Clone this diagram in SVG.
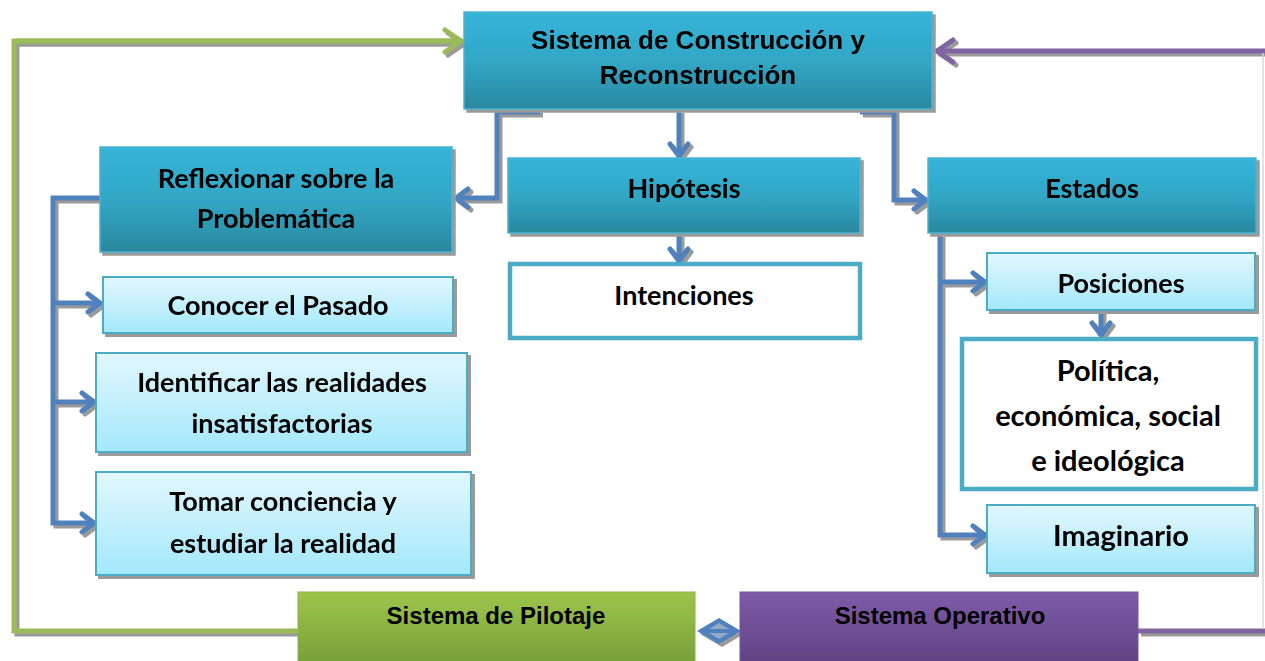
<svg xmlns="http://www.w3.org/2000/svg" width="1265" height="661" viewBox="0 0 1265 661">
<defs>
<linearGradient id="gTeal" x1="0" y1="0" x2="0" y2="1"><stop offset="0" stop-color="#36b4d8"/><stop offset="0.5" stop-color="#31a7c6"/><stop offset="1" stop-color="#2a889f"/></linearGradient>
<linearGradient id="gLight" x1="0" y1="0" x2="0" y2="1"><stop offset="0" stop-color="#e2f7fd"/><stop offset="1" stop-color="#a3e8fb"/></linearGradient>
<linearGradient id="gGreen" x1="0" y1="0" x2="0" y2="1"><stop offset="0" stop-color="#9dc54b"/><stop offset="1" stop-color="#769e38"/></linearGradient>
<linearGradient id="gPurple" x1="0" y1="0" x2="0" y2="1"><stop offset="0" stop-color="#7f5ba8"/><stop offset="1" stop-color="#5e4182"/></linearGradient>
<filter id="sh" x="-5%" y="-5%" width="115%" height="130%">
<feFlood flood-color="#9a9a9a"/><feComposite in2="SourceAlpha" operator="in"/><feOffset dx="3" dy="3" result="s"/>
<feMerge><feMergeNode in="s"/><feMergeNode in="SourceGraphic"/></feMerge>
</filter>
<marker id="aBlue" viewBox="0 0 18 24" refX="16" refY="12" markerWidth="18" markerHeight="24" markerUnits="userSpaceOnUse" orient="auto"><path d="M3,3 L15,12 L3,21" fill="none" stroke="#4f81bd" stroke-width="5" stroke-linecap="round" stroke-linejoin="round"/></marker>
<marker id="aGreen" viewBox="0 0 22 28" refX="20" refY="14" markerWidth="22" markerHeight="28" markerUnits="userSpaceOnUse" orient="auto"><path d="M3,3 L19,14 L3,25" fill="none" stroke="#9bbb59" stroke-width="5" stroke-linecap="round" stroke-linejoin="round"/></marker>
<marker id="aPurple" viewBox="0 0 22 28" refX="20" refY="14" markerWidth="22" markerHeight="28" markerUnits="userSpaceOnUse" orient="auto"><path d="M3,3 L19,14 L3,25" fill="none" stroke="#8064a2" stroke-width="5" stroke-linecap="round" stroke-linejoin="round"/></marker>
</defs>
<style>
.teal{fill:url(#gTeal);stroke:#4bb3d0;stroke-width:1.5}
.light{fill:url(#gLight);stroke:#4bacc6;stroke-width:2}
.white{fill:#ffffff;stroke:#4bacc6;stroke-width:4.5}
.ar{font-family:"Liberation Sans",Arial,sans-serif;font-weight:bold;fill:#000;text-anchor:middle}
.ca{font-family:Lato,"Open Sans",sans-serif;font-weight:bold;fill:#000;text-anchor:middle}
.cb{fill:none;stroke:#4f81bd;stroke-width:5}
</style>
<rect width="1265" height="661" fill="#ffffff"/>
<g id="connectors" filter="url(#sh)">
<path d="M463,41 H14 V631 H298" fill="none" stroke="#9bbb59" stroke-width="5"/>
<path d="M16,41 H462" fill="none" stroke="#9bbb59" stroke-width="5" marker-end="url(#aGreen)"/>
<path d="M1265,51 H936" fill="none" stroke="#8064a2" stroke-width="5" marker-end="url(#aPurple)"/>
<path d="M1138,631 H1265" fill="none" stroke="#8064a2" stroke-width="5"/>
<path d="M540,112 H497 V198 H455" class="cb" marker-end="url(#aBlue)"/>
<path d="M679,110 V157" class="cb" marker-end="url(#aBlue)"/>
<path d="M860,112 H894 V200 H927" class="cb" marker-end="url(#aBlue)"/>
<path d="M679,234 V262" class="cb" marker-end="url(#aBlue)"/>
<path d="M100,198 H53 V523 H95" class="cb" marker-end="url(#aBlue)"/>
<path d="M53,303 H101" class="cb" marker-end="url(#aBlue)"/>
<path d="M53,402 H95" class="cb" marker-end="url(#aBlue)"/>
<path d="M940,234 V535 H986" class="cb" marker-end="url(#aBlue)"/>
<path d="M940,282 H986" class="cb" marker-end="url(#aBlue)"/>
<path d="M1101,311 V336" class="cb" marker-end="url(#aBlue)"/>
</g>
<line x1="1263" y1="53" x2="1263" y2="629" stroke="#d8d8d8" stroke-width="1.5"/>
<g id="link-diamond" filter="url(#sh)">
<path d="M697,631 L719,618 L741,631 L719,644 Z" fill="#4f81bd"/>
<path d="M709,629 L719,623 L729,629 Z M709,633 L719,639 L729,633 Z" fill="#95a9c6"/>
</g>
<g id="node-construccion" filter="url(#sh)">
<rect x="464" y="12" width="468" height="97" class="teal"/>
<text x="698" y="49" class="ar" font-size="26">Sistema de Construcción y</text>
<text x="698" y="84" class="ar" font-size="26">Reconstrucción</text>
</g>
<g id="node-reflexionar" filter="url(#sh)">
<rect x="100" y="147" width="352" height="105" class="teal"/>
<text x="276" y="188" class="ca" font-size="27">Reflexionar sobre la</text>
<text x="276" y="228" class="ca" font-size="27">Problemática</text>
</g>
<g id="node-hipotesis" filter="url(#sh)">
<rect x="508" y="158" width="352" height="75" class="teal"/>
<text x="684" y="198" class="ca" font-size="27">Hipótesis</text>
</g>
<g id="node-estados" filter="url(#sh)">
<rect x="928" y="158" width="328" height="75" class="teal"/>
<text x="1092" y="198" class="ca" font-size="27">Estados</text>
</g>
<g id="node-intenciones">
<rect x="510" y="264" width="350" height="74" class="white"/>
<text x="684" y="305" class="ca" font-size="27">Intenciones</text>
</g>
<g id="node-conocer" filter="url(#sh)">
<rect x="103" y="277" width="350" height="56" class="light"/>
<text x="278" y="315" class="ca" font-size="27">Conocer el Pasado</text>
</g>
<g id="node-identificar" filter="url(#sh)">
<rect x="96" y="353" width="371" height="99" class="light"/>
<text x="282" y="392" class="ca" font-size="27">Identificar las realidades</text>
<text x="282" y="433" class="ca" font-size="27">insatisfactorias</text>
</g>
<g id="node-tomar" filter="url(#sh)">
<rect x="96" y="472" width="375" height="103" class="light"/>
<text x="283" y="511" class="ca" font-size="27">Tomar conciencia y</text>
<text x="283" y="553" class="ca" font-size="27">estudiar la realidad</text>
</g>
<g id="node-posiciones" filter="url(#sh)">
<rect x="987" y="253" width="268" height="57" class="light"/>
<text x="1121" y="293" class="ca" font-size="27">Posiciones</text>
</g>
<g id="node-politica">
<rect x="962" y="339" width="294" height="150" class="white"/>
<text x="1108" y="381" class="ca" font-size="29">Política,</text>
<text x="1108" y="426" class="ca" font-size="29">económica, social</text>
<text x="1108" y="471" class="ca" font-size="29">e ideológica</text>
</g>
<g id="node-imaginario" filter="url(#sh)">
<rect x="987" y="505" width="268" height="68" class="light"/>
<text x="1121" y="546" class="ca" font-size="29">Imaginario</text>
</g>
<g id="node-pilotaje">
<rect x="298" y="592" width="397" height="75" fill="url(#gGreen)" stroke="#8cb24a" stroke-width="1"/>
<text x="496" y="624" class="ar" font-size="24">Sistema de Pilotaje</text>
</g>
<g id="node-operativo">
<rect x="740" y="592" width="398" height="75" fill="url(#gPurple)" stroke="#7357a0" stroke-width="1"/>
<text x="940" y="624" class="ar" font-size="24">Sistema Operativo</text>
</g>
</svg>
